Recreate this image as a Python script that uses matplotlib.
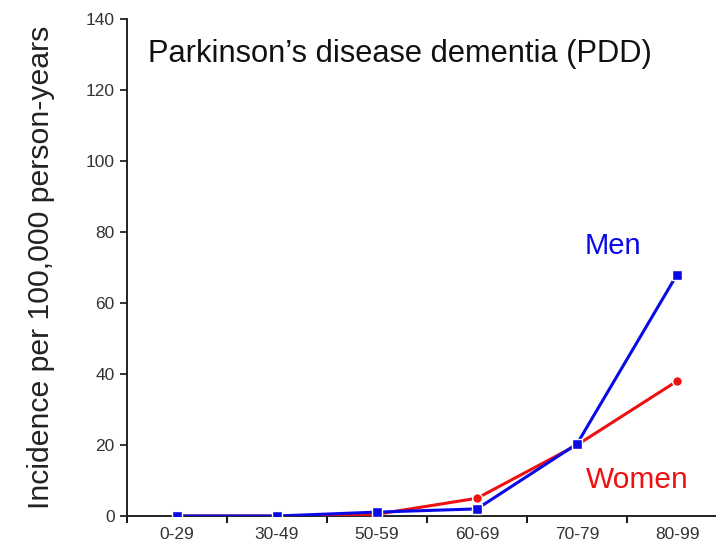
import matplotlib
matplotlib.use("Agg")
import matplotlib.pyplot as plt
import numpy as np

plt.rcParams['font.family'] = ['Liberation Sans', 'DejaVu Sans']

age_groups = ["0-29", "30-49", "50-59", "60-69", "70-79", "80-99"]
men = [0, 0, 1.1, 2, 20.3, 68]
women = [0, 0, 0.5, 5, 20, 38]

fig = plt.figure(figsize=(7.24, 5.52), dpi=100)
ax = fig.add_axes([127/724, 36/552, 588/724, 497/552])

x = np.arange(len(age_groups))
ax.plot(x, women, color="#ee1111", lw=2.2, marker="o", ms=7,
        markeredgecolor="white", markeredgewidth=1, zorder=3)
ax.plot(x, men, color="#0a0ae6", lw=2.2, marker="s", ms=7,
        markeredgecolor="white", markeredgewidth=1, zorder=4)

ax.set_xlim(-0.5, 5.38)
ax.set_ylim(0, 140)
ax.set_yticks(range(0, 141, 20))
ax.set_xticks(x)
ax.set_xticklabels(age_groups)
ax.set_xticks(np.arange(-0.5, 5.5, 1), minor=True)
ax.tick_params(axis="x", which="major", length=0, pad=8, labelsize=12.5)
ax.tick_params(axis="x", which="minor", length=5, width=1.3, direction="out")
ax.tick_params(axis="y", length=5, width=1.3, direction="out", labelsize=12.5, pad=4)
ax.tick_params(axis="both", labelcolor="#333333", color="#222222")

for side in ("top", "right"):
    ax.spines[side].set_visible(False)
for side in ("left", "bottom"):
    ax.spines[side].set_linewidth(1.4)
    ax.spines[side].set_color("#222222")

ax.set_ylabel("Incidence per 100,000 person-years", fontsize=21.8, labelpad=22,
              color="#222222")
ax.text(0.036, 0.93, "Parkinson\u2019s disease dementia (PDD)", transform=ax.transAxes,
        fontsize=22.2, ha="left", va="center", color="#111111")
ax.text(4.36, 76, "Men", fontsize=21, color="#0a0ae6", ha="center", va="center")
ax.text(4.6, 10, "Women", fontsize=21.5, color="#ee1111", ha="center", va="center")

fig.savefig("out.png", dpi=100)
